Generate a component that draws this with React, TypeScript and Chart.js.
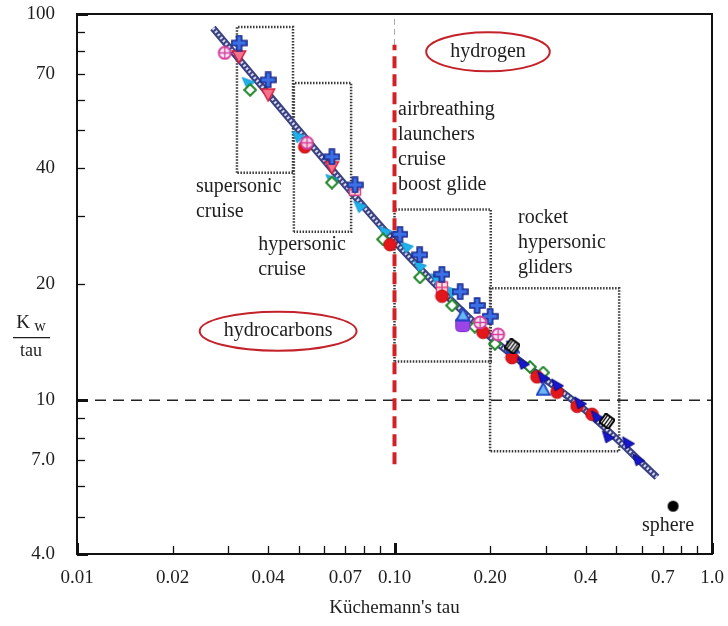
import React, { useEffect, useRef } from 'react';
import { Chart, registerables } from 'chart.js';
Chart.register(...registerables);

const FONT = '"Liberation Serif", "Times New Roman", serif';

// axes
const xMin = 0.01, xMax = 1.0, yMin = 4, yMax = 100;
const xTickValues = [0.01, 0.02, 0.04, 0.07, 0.1, 0.2, 0.4, 0.7, 1.0];
const xTickLabels = ['0.01', '0.02', '0.04', '0.07', '0.10', '0.20', '0.4', '0.7', '1.0'];
const xMinorTicks = [0.03, 0.05, 0.06, 0.08, 0.09, 0.3, 0.5, 0.6, 0.8, 0.9];
const xBoldTicks = [0.01, 0.1, 1.0];
const yTickValues = [4, 7, 10, 20, 40, 70, 100];
const yTickLabels = ['4.0', '7.0', '10', '20', '40', '70', '100'];
const yMinorTicks = [5, 6, 8, 9, 30, 50, 60, 80, 90];
const yBoldTicks = [4, 10, 100];

// correlation curve
const curveTau = [0.0268, 0.05, 0.1, 0.2, 0.4, 0.671];
const curveK = [92, 50, 25.8, 14.6, 9.4, 6.32];

// data series
const crossTau = [0.0324, 0.04, 0.0635, 0.0751, 0.104, 0.12, 0.141, 0.161, 0.182, 0.2];
const crossK = [84.1, 67.5, 42.7, 36.1, 26.9, 23.8, 21.2, 19.1, 17.6, 16.5];
const downTriTau = [0.0324, 0.04, 0.0635];
const downTriK = [77.4, 61.7, 40.0];
const pinkGridTau = [0.0751, 0.1411];
const pinkGridK = [35.1, 19.6];
const cyanTau = [0.0346, 0.0497, 0.0635, 0.0778, 0.0933, 0.1094, 0.1203, 0.136, 0.1518];
const cyanK = [66.3, 48.1, 37.2, 31.7, 27.3, 24.9, 22.2, 20.6, 19.1];
const diamondTau = [0.0351, 0.0635, 0.092, 0.1203, 0.1518, 0.179, 0.2073, 0.267, 0.294];
const diamondK = [63.6, 36.6, 26.1, 20.8, 17.6, 15.5, 14.0, 12.2, 11.8];
const redTau = [0.0522, 0.0968, 0.1411, 0.19, 0.2344, 0.281, 0.325, 0.376, 0.419];
const redK = [45.3, 25.3, 18.6, 15.0, 12.9, 11.5, 10.5, 9.65, 9.2];
const pinkCircTau = [0.0292, 0.053, 0.186, 0.212];
const pinkCircK = [79.3, 46.4, 15.9, 14.8];
const navyTriTau = [0.2344, 0.254, 0.294, 0.325, 0.384, 0.434, 0.47, 0.544, 0.585];
const navyTriK = [13.8, 12.5, 11.5, 11.0, 9.88, 9.1, 8.07, 7.79, 7.04];
const openTriTau = [0.1643, 0.2352, 0.294];
const openTriK = [16.7, 13.8, 10.7];
const purpleTau = [0.164];
const purpleK = [15.7];
const blackTau = [0.235, 0.467];
const blackK = [13.8, 8.83];
const sphereTau = [0.754];
const sphereK = [5.32];

// regions (boxes)
const boxLeft = [0.0319, 0.0482, 0.1, 0.2];
const boxRight = [0.0479, 0.073, 0.201, 0.51];
const boxBottom = [38.8, 27.3, 12.6, 7.38];
const boxTop = [92.6, 66.3, 31.2, 19.5];

// reference lines
const refK = 10;
const refTau = 0.1;
const refRedTop = 83.2;
const refRedBottom = 6.83;

// annotations
const noteLines = [
  ['supersonic', 'cruise'],
  ['hypersonic', 'cruise'],
  ['airbreathing', 'launchers', 'cruise', 'boost glide'],
  ['rocket', 'hypersonic', 'gliders'],
  ['sphere'],
];
const noteTau = [0.0237, 0.0372, 0.1026, 0.2449, 0.727];
const noteK = [35.7, 25.3, 56.5, 29.7, 4.73];
const noteAlign = ['left', 'left', 'left', 'left', 'center'];
const ellipseText = ['hydrogen', 'hydrocarbons'];
const ellipseTau = [0.197, 0.043];
const ellipseK = [79.8, 15.1];

const pts = (xs: number[], ys: number[]) => xs.map((x, i) => ({ x, y: ys[i] }));

function marker(size: number, fn: (g: CanvasRenderingContext2D) => void) {
  const c = document.createElement('canvas');
  c.width = size;
  c.height = size;
  const g = c.getContext('2d')!;
  fn(g);
  return c;
}
function poly(g: CanvasRenderingContext2D, p: number[][], fill: string, stroke: string, lw: number) {
  g.beginPath();
  p.forEach(([x, y], i) => (i ? g.lineTo(x, y) : g.moveTo(x, y)));
  g.closePath();
  g.fillStyle = fill;
  g.fill();
  g.lineWidth = lw;
  g.strokeStyle = stroke;
  g.stroke();
}
const zeroPad = (s: any) => {
  s.paddingTop = 0;
  s.paddingBottom = 0;
  s.paddingLeft = 0;
  s.paddingRight = 0;
};

export default function App() {
  const ref = useRef<HTMLCanvasElement>(null);
  useEffect(() => {
    const canvas = ref.current!;
    const mPlus = marker(17, (g) =>
      poly(g, [[6, 1], [11, 1], [11, 6], [16, 6], [16, 11], [11, 11], [11, 16], [6, 16], [6, 11], [1, 11], [1, 6], [6, 6]], '#3b6fe6', '#1b2b8f', 1.6));
    const mDownTri = marker(16, (g) => poly(g, [[1.5, 2], [14.5, 2], [8, 14]], '#f5728e', '#d8203c', 1.5));
    const mCyan = marker(15, (g) => poly(g, [[1.5, 2], [14, 6.5], [6.5, 13.5]], '#1fb0ea', '#1898d8', 1));
    const mDiamond = marker(14, (g) => poly(g, [[7, 1.2], [12.8, 7], [7, 12.8], [1.2, 7]], '#ffffff', '#22882a', 2));
    const mRed = marker(15, (g) => {
      g.beginPath(); g.arc(7.5, 7.5, 6.3, 0, Math.PI * 2);
      g.fillStyle = '#e3161b'; g.fill(); g.strokeStyle = '#b80c10'; g.lineWidth = 1; g.stroke();
    });
    const mPinkCirc = marker(15, (g) => {
      g.beginPath(); g.arc(7.5, 7.5, 6, 0, Math.PI * 2);
      g.fillStyle = 'rgba(255,235,245,0.9)'; g.fill(); g.strokeStyle = '#d23c9c'; g.lineWidth = 1.8; g.stroke();
      g.beginPath(); g.moveTo(7.5, 2); g.lineTo(7.5, 13); g.moveTo(2, 7.5); g.lineTo(13, 7.5); g.lineWidth = 1.3; g.stroke();
    });
    const mNavyTri = marker(15, (g) => poly(g, [[2, 2], [14, 9], [5.5, 14]], '#1616cc', '#0a0a80', 1));
    const mOpenTri = marker(15, (g) => poly(g, [[7.5, 1.5], [14, 13.5], [1, 13.5]], '#6ab8f2', '#1d3fc4', 1.8));
    const mPurple = marker(17, (g) => {
      g.beginPath(); g.roundRect(1.5, 1.5, 14, 14, 4);
      g.fillStyle = '#9b45e8'; g.fill(); g.strokeStyle = '#7a2ad0'; g.lineWidth = 1; g.stroke();
    });
    const mBlack = marker(16, (g) => {
      g.translate(8, 8); g.rotate(Math.PI / 5);
      g.fillStyle = '#ffffff'; g.fillRect(-5.5, -5.5, 11, 11);
      g.strokeStyle = '#000'; g.lineWidth = 2; g.strokeRect(-5.5, -5.5, 11, 11);
      g.lineWidth = 1.3; g.beginPath();
      for (let i = -3; i <= 3; i += 3) { g.moveTo(i, -5.5); g.lineTo(i, 5.5); }
      g.stroke();
    });
    const mPinkGrid = marker(14, (g) => {
      g.fillStyle = '#fbe2ea'; g.fillRect(1.5, 1.5, 11, 11);
      g.strokeStyle = '#e0407a'; g.lineWidth = 1.4; g.strokeRect(1.5, 1.5, 11, 11);
      g.beginPath(); g.moveTo(7, 1.5); g.lineTo(7, 12.5); g.moveTo(1.5, 7); g.lineTo(12.5, 7); g.stroke();
    });
    const mSphere = marker(13, (g) => {
      g.beginPath(); g.arc(6.5, 6.5, 5.5, 0, Math.PI * 2); g.fillStyle = '#000'; g.fill();
    });

    const scatter = (xs: number[], ys: number[], style: HTMLCanvasElement, order: number) => ({
      data: pts(xs, ys), pointStyle: style, pointRadius: 7, showLine: false, order,
    });
    const lineDs = (data: { x: number; y: number }[], color: string, width: number, dash: number[], order: number, extra: any = {}) => ({
      data, borderColor: color, borderWidth: width, borderDash: dash, pointRadius: 0, showLine: true, fill: false, order, ...extra,
    });

    const boxes = boxLeft.map((l, i) =>
      lineDs(
        [
          { x: l, y: boxBottom[i] }, { x: l, y: boxTop[i] }, { x: boxRight[i], y: boxTop[i] },
          { x: boxRight[i], y: boxBottom[i] }, { x: l, y: boxBottom[i] },
        ],
        '#3a3a3a', 2.5, [1.5, 1.5], 90
      )
    );

    const decor = {
      id: 'decor',
      afterDatasetsDraw(chart: any) {
        const { ctx, chartArea: a, scales } = chart;
        const xs = scales.x, ys = scales.y;
        ctx.save();
        // frame
        ctx.strokeStyle = '#111';
        ctx.lineWidth = 2;
        ctx.setLineDash([]);
        ctx.strokeRect(a.left, a.top, a.right - a.left, a.bottom - a.top);
        // ticks
        const xt = [...xTickValues, ...xMinorTicks];
        xt.forEach((v) => {
          const px = Math.round(xs.getPixelForValue(v)) + 0.5;
          const bold = xBoldTicks.includes(v);
          ctx.lineWidth = bold ? 3 : 1.3;
          ctx.beginPath();
          ctx.moveTo(px, a.bottom);
          ctx.lineTo(px, a.bottom - (bold ? 11 : 8));
          ctx.stroke();
        });
        const yt = [...yTickValues, ...yMinorTicks];
        yt.forEach((v) => {
          const py = Math.round(ys.getPixelForValue(v)) + 0.5;
          const bold = yBoldTicks.includes(v);
          ctx.lineWidth = bold ? 3 : 1.3;
          ctx.beginPath();
          ctx.moveTo(a.left, py);
          ctx.lineTo(a.left + (bold ? 11 : 8), py);
          ctx.stroke();
        });
        // notes
        ctx.fillStyle = '#1e1e1e';
        ctx.font = `20px ${FONT}`;
        ctx.textBaseline = 'middle';
        noteLines.forEach((lines, i) => {
          const px = xs.getPixelForValue(noteTau[i]);
          const py = ys.getPixelForValue(noteK[i]);
          ctx.textAlign = noteAlign[i] as CanvasTextAlign;
          lines.forEach((t, j) => ctx.fillText(t, px, py + j * 25));
        });
        // ellipses
        ellipseText.forEach((t, i) => {
          const cx = xs.getPixelForValue(ellipseTau[i]);
          const cy = ys.getPixelForValue(ellipseK[i]);
          ctx.textAlign = 'center';
          ctx.fillStyle = '#1e1e1e';
          ctx.fillText(t, cx, cy);
          const w = ctx.measureText(t).width;
          ctx.beginPath();
          ctx.ellipse(cx, cy, w / 2 + 24, 19.5, 0, 0, Math.PI * 2);
          ctx.strokeStyle = '#c3222b';
          ctx.lineWidth = 2;
          ctx.stroke();
        });
        // x title
        ctx.fillStyle = '#1e1e1e';
        ctx.font = `19px ${FONT}`;
        ctx.textAlign = 'center';
        ctx.fillText("Küchemann's tau", (a.left + a.right) / 2, 608);
        // y title fraction
        const yx = 31, yy = ys.getPixelForValue(15.1) + 4;
        ctx.font = `19px ${FONT}`;
        ctx.textAlign = 'center';
        ctx.fillText('K', yx - 8, yy - 12);
        ctx.font = `16px ${FONT}`;
        ctx.fillText('w', yx + 9, yy - 8);
        ctx.strokeStyle = '#1e1e1e';
        ctx.lineWidth = 1.3;
        ctx.beginPath();
        ctx.moveTo(yx - 18, yy + 2.5);
        ctx.lineTo(yx + 19, yy + 2.5);
        ctx.stroke();
        ctx.font = `18px ${FONT}`;
        ctx.fillText('tau', yx, yy + 16);
        ctx.restore();
      },
    };

    const chart = new Chart(canvas, {
      type: 'scatter',
      data: {
        datasets: [
          scatter(sphereTau, sphereK, mSphere, 1),
          scatter(blackTau, blackK, mBlack, 2),
          scatter(purpleTau, purpleK, mPurple, 4),
          scatter(openTriTau, openTriK, mOpenTri, 3),
          scatter(navyTriTau, navyTriK, mNavyTri, 5),
          scatter(pinkCircTau, pinkCircK, mPinkCirc, 6),
          scatter(crossTau, crossK, mPlus, 7),
          scatter(redTau, redK, mRed, 8),
          scatter(diamondTau, diamondK, mDiamond, 9),
          scatter(pinkGridTau, pinkGridK, mPinkGrid, 10),
          scatter(downTriTau, downTriK, mDownTri, 11),
          scatter(cyanTau, cyanK, mCyan, 12),
          lineDs(pts(curveTau, curveK), '#d7d9ee', 3, [2, 2], 50, { tension: 0.4, cubicInterpolationMode: 'monotone' }),
          lineDs(pts(curveTau, curveK), '#3b4282', 7, [], 51, { tension: 0.4, cubicInterpolationMode: 'monotone' }),
          lineDs([{ x: refTau, y: refRedBottom }, { x: refTau, y: refRedTop }], '#d42025', 4, [12, 6], 60),
          lineDs([{ x: refTau, y: refRedTop }, { x: refTau, y: yMax }], '#aaaaaa', 1, [6, 4], 61),
          lineDs([{ x: xMin, y: refK }, { x: xMax, y: refK }], '#222222', 1.6, [11, 7], 62),
          ...boxes,
        ] as any,
      },
      options: {
        animation: false,
        responsive: false,
        devicePixelRatio: 1,
        events: [],
        layout: { padding: { top: 14, right: 16, left: 0, bottom: 0 } },
        plugins: { legend: { display: false }, tooltip: { enabled: false } },
        scales: {
          x: {
            type: 'logarithmic',
            min: xMin,
            max: xMax,
            afterBuildTicks: (s: any) => { s.ticks = xTickValues.map((v) => ({ value: v })); },
            afterFit: (s: any) => { s.height = 72; zeroPad(s); },
            grid: { display: false, drawTicks: false },
            border: { display: false },
            ticks: {
              autoSkip: false,
              maxRotation: 0,
              padding: 13,
              color: '#1e1e1e',
              font: { family: FONT, size: 19 },
              callback: (v: any) => { const i = xTickValues.indexOf(Number(v)); return i >= 0 ? xTickLabels[i] : ''; },
            },
          },
          y: {
            type: 'logarithmic',
            min: yMin,
            max: yMax,
            afterBuildTicks: (s: any) => { s.ticks = yTickValues.map((v) => ({ value: v })); },
            afterFit: (s: any) => { s.width = 77; zeroPad(s); },
            grid: { display: false, drawTicks: false },
            border: { display: false },
            ticks: {
              autoSkip: false,
              padding: 22,
              color: '#1e1e1e',
              font: { family: FONT, size: 19 },
              callback: (v: any) => { const i = yTickValues.indexOf(Number(v)); return i >= 0 ? yTickLabels[i] : ''; },
            },
          },
        },
      } as any,
      plugins: [decor],
    });
    return () => chart.destroy();
  }, []);
  return (
    <div style={{ position: 'absolute', left: 0, top: 0, width: 728, height: 626, background: '#fff' }}>
      <canvas ref={ref} width={728} height={626} style={{ display: 'block' }} />
    </div>
  );
}
